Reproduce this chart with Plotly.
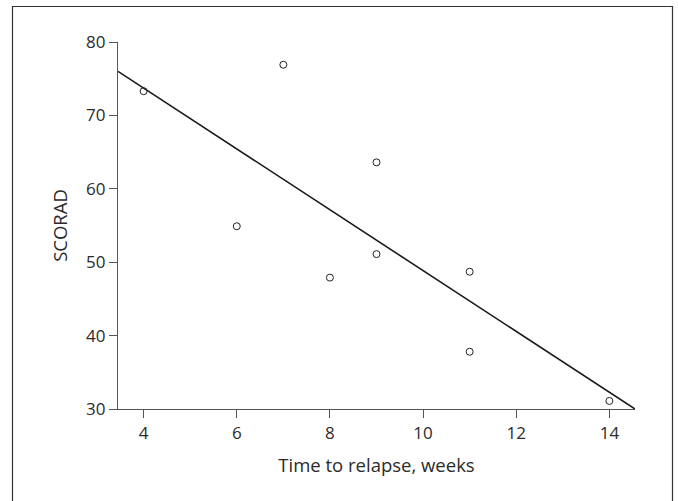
import numpy as np
import plotly.graph_objects as go

# Data
weeks = [4, 6, 7, 8, 9, 9, 11, 11, 14]
scorad = [73.3, 54.9, 76.9, 47.9, 63.6, 51.1, 48.7, 37.8, 31.1]
x_ticks = [4, 6, 8, 10, 12, 14]
y_ticks = [30, 40, 50, 60, 70, 80]
x_range = [3.45, 14.55]
y_range = [30, 80]

# Least-squares regression line
slope, intercept = np.polyfit(weeks, scorad, 1)
fit_x = np.array(x_range)
fit_y = slope * fit_x + intercept

font_family = "Open Sans, Noto Sans, sans-serif"
text_color = "#2b2b2b"
axis_color = "#555555"

fig = go.Figure()
fig.add_trace(go.Scatter(
    x=fit_x, y=fit_y, mode="lines",
    line=dict(color="#1a1a1a", width=1.6),
    hoverinfo="skip", showlegend=False, cliponaxis=False,
))
fig.add_trace(go.Scatter(
    x=weeks, y=scorad, mode="markers",
    marker=dict(symbol="circle-open", size=7, color="#222222", line=dict(width=1)),
    showlegend=False, cliponaxis=False,
))

W, H = 678, 501
ml, mr, mt, mb = 118, 43, 42, 92
pw, ph = W - ml - mr, H - mt - mb

def px_to_paper_x(px):
    return (px - ml) / pw

def px_to_paper_y(py):
    return (H - mb - py) / ph

fig.add_shape(
    type="rect", xref="paper", yref="paper",
    x0=px_to_paper_x(12.5), x1=px_to_paper_x(672.5),
    y0=px_to_paper_y(520), y1=px_to_paper_y(6.5),
    line=dict(color="#333333", width=1.2), fillcolor="rgba(0,0,0,0)",
    layer="below",
)

axis_common = dict(
    showgrid=False, zeroline=False, showline=True,
    linecolor=axis_color, linewidth=1.2,
    ticks="outside", ticklen=8, tickwidth=1.2, tickcolor=axis_color,
    tickfont=dict(family=font_family, size=17, color=text_color),
    title_font=dict(family=font_family, size=18.5, color=text_color),
    fixedrange=True,
)

fig.update_layout(
    width=W, height=H,
    margin=dict(l=ml, r=mr, t=mt, b=mb, pad=0),
    paper_bgcolor="white", plot_bgcolor="white",
    xaxis=dict(range=x_range, tickvals=x_ticks, title=dict(text="Time to relapse, weeks", standoff=16), **axis_common),
    yaxis=dict(range=y_range, tickvals=y_ticks, title=dict(text="SCORAD", standoff=13), **axis_common),
)

fig.write_html("out.html", config={"displayModeBar": False},
               post_script="document.body.style.margin='0';")
